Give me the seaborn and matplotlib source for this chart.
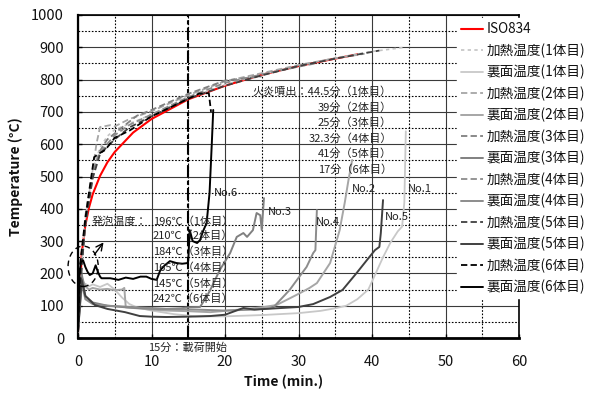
import numpy as np
import pandas as pd
import matplotlib
matplotlib.use("Agg")
import matplotlib.pyplot as plt
from matplotlib.patches import Ellipse
from matplotlib.ticker import MultipleLocator
import seaborn as sns

sns.set_theme(style="white")
plt.rcParams['font.family'] = ['Noto Sans CJK JP', 'DejaVu Sans']

# ---------------- data ----------------
iso_t = [0, 0.25, 0.5, 1, 1.5, 2, 3, 4, 5, 7.5, 10, 15, 20, 25, 30, 35, 38]
iso_T = [20, 124, 261, 349, 404, 445, 502, 544, 576, 636, 678, 739, 781, 815, 842, 865, 878]

heat1_t = [0, 0.5, 1, 2, 3, 4, 5, 7.5, 10, 15, 20, 25, 30, 35, 40, 44.5]
heat1_T = [20, 230, 370, 520, 590, 625, 645, 668, 692, 742, 784, 816, 844, 867, 887, 900]
heat2_t = [0, 0.5, 1, 1.9, 2.5, 3, 4.4, 5, 7, 10, 15, 20, 25, 30, 35, 39]
heat2_T = [20, 240, 380, 500, 600, 653, 659, 655, 678, 702, 752, 795, 820, 845, 866, 880]
heat3_t = [0, 0.5, 1, 2, 3, 4, 6, 8, 10, 15, 20, 25]
heat3_T = [20, 230, 360, 510, 580, 615, 652, 688, 706, 756, 797, 810]
heat4_t = [0, 0.5, 1, 2, 3, 5, 7, 10, 15, 20, 25, 30, 32.3]
heat4_T = [20, 225, 355, 500, 575, 628, 660, 692, 746, 790, 816, 840, 850]
heat5_t = [0, 0.5, 1, 2, 3, 5, 7, 10, 15, 20, 25, 30, 35, 41]
heat5_T = [20, 220, 350, 495, 570, 615, 652, 686, 741, 781, 813, 842, 865, 890]
heat6_t = [0, 0.3, 1, 1.6, 2.2, 3, 3.7, 5, 7, 10, 14, 16.5, 17.8, 18.1]
heat6_T = [20, 232, 370, 467, 560, 573, 582, 620, 642, 686, 730, 757, 758, 700]

back1_t = [0, 0.5, 1, 1.5, 2, 3, 4, 5, 6, 7, 8, 10, 13, 16, 20, 25, 30, 33, 35, 36.5, 38,
           39.5, 40.5, 41.5, 42.5, 43.5, 44.1, 44.4, 44.6]
back1_T = [20, 150, 168, 160, 166, 158, 168, 150, 125, 105, 95, 85, 74, 67, 67, 71, 77, 84, 92,
           100, 120, 150, 200, 250, 295, 330, 345, 420, 640]
back2_t = [0, 0.5, 1, 1.5, 2, 3, 4, 5, 6, 6.3, 6.5, 8, 10, 12, 15, 18, 20, 22, 25, 27, 29,
           30.2, 31.5, 32.5, 34.3, 35.6, 36.3, 36.8, 37.3]
back2_T = [20, 190, 160, 150, 155, 150, 152, 148, 150, 155, 95, 92, 88, 85, 83, 80, 84, 88, 95,
           102, 125, 139, 155, 170, 232, 334, 420, 489, 551]
back3_t = [0, 0.5, 1, 2, 3, 4, 5, 6, 6.5, 8, 10, 12, 14, 15, 16.6, 17.5, 18, 19.3, 20.7, 21.6,
           22.5, 23, 23.8, 24.3, 24.8, 25, 25.3]
back3_T = [20, 200, 130, 110, 105, 100, 98, 96, 95, 93, 91, 90, 92, 95, 96, 128, 149, 211, 263,
           313, 325, 313, 334, 387, 380, 334, 433]
back4_t = [0, 0.5, 1, 2, 4, 8, 12, 16, 20, 24, 26.5, 28.8, 29.8, 31.1, 32, 32.3, 32.5]
back4_T = [20, 170, 120, 105, 100, 95, 90, 88, 85, 88, 93, 149, 180, 220, 263, 272, 396]
back5_t = [0, 0.5, 1, 2.3, 4, 6.4, 8.4, 10, 12, 15, 18, 20, 22.5, 24, 27, 30, 32, 34.3, 36,
           37.9, 39.3, 40.4, 41, 41.2, 41.5]
back5_T = [20, 180, 130, 102, 90, 80, 68, 66, 65, 66, 68, 72, 93, 88, 92, 96, 105, 127, 149,
           201, 241, 272, 282, 325, 427]
back6_t = [0, 0.2, 0.4, 0.7, 1.0, 1.3, 1.6, 2.0, 2.4, 2.7, 3.0, 3.2, 4.4, 5.5, 6.5, 7.5, 8.5,
           9.3, 10.0, 10.7, 11.2, 11.8, 12.5, 13.4, 14.2, 14.9, 15.0, 15.2, 15.6, 16.2, 16.6,
           17.0, 17.5, 17.9, 18.2, 18.4]
back6_T = [20, 200, 236, 240, 220, 205, 195, 200, 225, 205, 190, 185, 185, 180, 187, 183, 190,
           190, 183, 180, 210, 225, 238, 232, 230, 232, 240, 334, 300, 294, 303, 330, 356, 450,
           600, 706]

labels = ["ISO834",
          "加熱温度(1体目)", "裏面温度(1体目)", "加熱温度(2体目)", "裏面温度(2体目)",
          "加熱温度(3体目)", "裏面温度(3体目)", "加熱温度(4体目)", "裏面温度(4体目)",
          "加熱温度(5体目)", "裏面温度(5体目)", "加熱温度(6体目)", "裏面温度(6体目)"]

flame_lines = ["火炎噴出：44.5分（1体目）", "39分（2体目）", "25分（3体目）",
               "32.3分（4体目）", "41分（5体目）", "17分（6体目）"]
foam_lines = ["196℃（1体目）", "210℃（2体目）", "184℃（3体目）",
              "165℃（4体目）", "145℃（5体目）", "242℃（6体目）"]
no_labels = ["No.1", "No.2", "No.3", "No.4", "No.5", "No.6"]

# ---------------- figure ----------------
fig = plt.figure(figsize=(6.12, 3.94), dpi=100)
ax = fig.add_axes([78/612, 1-338/394, (519-78)/612, (338-15)/394])

series = [
    (iso_t, iso_T, "#ff0000", "-", 1.5),
    (heat1_t, heat1_T, "#c4c4c4", (0, (2, 2)), 1.2),
    (back1_t, back1_T, "#c8c8c8", "-", 1.3),
    (heat2_t, heat2_T, "#a6a6a6", (0, (3.5, 1.8)), 1.3),
    (back2_t, back2_T, "#a6a6a6", "-", 1.4),
    (heat3_t, heat3_T, "#808080", (0, (3.5, 1.8)), 1.3),
    (back3_t, back3_T, "#808080", "-", 1.4),
    (heat4_t, heat4_T, "#8c8c8c", (0, (3.5, 1.8)), 1.3),
    (back4_t, back4_T, "#8c8c8c", "-", 1.4),
    (heat5_t, heat5_T, "#404040", (0, (3.5, 1.8)), 1.3),
    (back5_t, back5_T, "#404040", "-", 1.4),
    (heat6_t, heat6_T, "#000000", (0, (3.5, 1.8)), 1.3),
    (back6_t, back6_T, "#000000", "-", 1.4),
]
for (tt, TT, c, ls, lw), lab in zip(series, labels):
    df = pd.DataFrame({"t": tt, "T": TT})
    sns.lineplot(data=df, x="t", y="T", ax=ax, color=c, linestyle=ls, linewidth=lw,
                 label=lab, estimator=None, sort=False, zorder=3)

ax.set_xlim(0, 60)
ax.set_ylim(0, 1000)
ax.xaxis.set_major_locator(MultipleLocator(10))
ax.xaxis.set_minor_locator(MultipleLocator(5))
ax.yaxis.set_major_locator(MultipleLocator(100))
ax.yaxis.set_minor_locator(MultipleLocator(50))
ax.grid(which="major", color="#3a3a3a", linewidth=0.8, linestyle="-", zorder=1)
ax.grid(which="minor", color="#000000", linewidth=0.8, linestyle=(0, (1.5, 1.5)), zorder=1)
ax.set_axisbelow(True)
ax.tick_params(which="major", direction="in", length=3, width=1, color="black",
               labelsize=10.5, pad=10, bottom=True, left=True)
ax.tick_params(axis="x", which="major", pad=12)
ax.tick_params(which="minor", length=0)
for lab in ax.get_xticklabels() + ax.get_yticklabels():
    lab.set_color("#111111")

for side, w in [("left", 1.6), ("bottom", 2.0), ("top", 1.2), ("right", 1.2)]:
    ax.spines[side].set_color("black")
    ax.spines[side].set_linewidth(w)
    ax.spines[side].set_visible(True)

# 15 min loading line
ax.axvline(15, color="black", linewidth=1.5, linestyle=(0, (6, 1.5, 2, 1.5)), zorder=2)

ax.set_xlabel("Time (min.)", fontsize=10, fontweight="bold", color="#111111")
ax.set_ylabel("Temperature (°C)", fontsize=10, fontweight="bold", color="#111111")
ax.xaxis.set_label_coords(0.467, -0.115)
ax.yaxis.set_label_coords(-0.125, 0.5)

tc = "#222222"
fs = 8
for s, T in zip(flame_lines, [762, 712, 666, 616, 570, 520]):
    ax.text(42.7, T, s, ha="right", va="center", fontsize=fs, color=tc, zorder=4)
ax.text(1.9, 359, "発泡温度：", ha="left", va="center", fontsize=fs, color=tc, zorder=4)
for s, T in zip(foam_lines, [359, 316, 266, 217, 167, 121]):
    ax.text(10.2, T, s, ha="left", va="center", fontsize=fs, color=tc, zorder=4)
no_pos = [(44.9, 461), (37.3, 461), (25.9, 390), (32.4, 359), (41.8, 375), (18.5, 449)]
for s, (x, y) in zip(no_labels, no_pos):
    ax.text(x, y, s, ha="left", va="center", fontsize=fs, color=tc, zorder=4)
ax.text(9.5, -31, "15分：載荷開始", ha="left", va="center", fontsize=fs, color=tc,
        clip_on=False)

ell = Ellipse((0.7, 222), width=4.1, height=125, fill=False, edgecolor="black",
              linestyle=(0, (4, 3)), linewidth=1.0, clip_on=False, zorder=4)
ax.add_patch(ell)
ax.annotate("", xy=(3.7, 303), xytext=(2.0, 251),
            arrowprops=dict(arrowstyle="->", color="black", lw=1.0), zorder=4)

leg = ax.legend(loc="upper left", bbox_to_anchor=(0.86, 0.99), borderaxespad=0,
                frameon=True, fontsize=9.8, handlelength=1.6, handletextpad=0.25,
                labelspacing=0.51, borderpad=0.3)
leg.get_frame().set_facecolor("white")
leg.get_frame().set_edgecolor("white")
leg.get_frame().set_alpha(1)
leg.set_zorder(10)
for t in leg.get_texts():
    t.set_color("#111111")

fig.savefig("out.png", dpi=100)
